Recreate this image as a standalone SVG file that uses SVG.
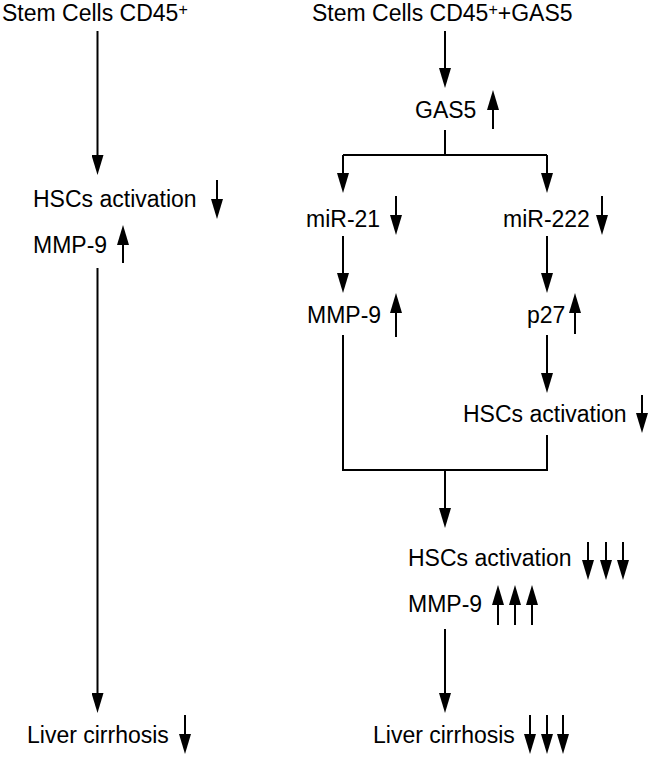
<svg xmlns="http://www.w3.org/2000/svg" width="650" height="757" viewBox="0 0 650 757">
<style>
text{font-family:"Liberation Sans",Arial,sans-serif;font-size:23px;fill:#000}
.sup{font-size:16px}
.c line,.c path{stroke:#000;stroke-width:2;fill:none}
.a{marker-end:url(#ah)}
</style>
<defs>
<marker id="ah" viewBox="0 0 20 12" refX="10" refY="6" markerWidth="20" markerHeight="12" markerUnits="userSpaceOnUse" orient="auto">
<path d="M0,0 L20,6 L0,12 z" fill="#000"/>
</marker>
</defs>
<rect width="650" height="757" fill="#fff"/>
<g id="left-stem"><text x="2" y="21">Stem Cells CD45<tspan class="sup" dy="-6.5">+</tspan></text></g>
<g id="left-hsc"><text x="33" y="207">HSCs activation</text></g>
<g id="left-mmp"><text x="33" y="253">MMP-9</text></g>
<g id="left-liver"><text x="27" y="743">Liver cirrhosis</text></g>
<g id="right-stem"><text x="312" y="21">Stem Cells CD45<tspan class="sup" dy="-6.5">+</tspan><tspan dy="6.5">+GAS5</tspan></text></g>
<g id="gas5"><text x="415" y="118">GAS5</text></g>
<g id="mir21"><text x="306" y="227">miR-21</text></g>
<g id="mir222"><text x="503" y="227">miR-222</text></g>
<g id="mmp9-r"><text x="307" y="323">MMP-9</text></g>
<g id="p27"><text x="527" y="323">p27</text></g>
<g id="hsc-r"><text x="463" y="422">HSCs activation</text></g>
<g id="hsc-comb"><text x="408" y="566">HSCs activation</text></g>
<g id="mmp-comb"><text x="408" y="612">MMP-9</text></g>
<g id="liver-r"><text x="373" y="743">Liver cirrhosis</text></g>
<g class="c" id="connectors">
<line class="a" x1="97.5" y1="31" x2="97.5" y2="165"/>
<line class="a" x1="97.5" y1="268" x2="97.5" y2="703"/>
<line class="a" x1="445" y1="31" x2="445" y2="78"/>
<path d="M445,130 V155 M343,155 H547"/>
<line class="a" x1="343" y1="155" x2="343" y2="183"/>
<line class="a" x1="547" y1="155" x2="547" y2="183"/>
<line class="a" x1="343" y1="236" x2="343" y2="283"/>
<line class="a" x1="547" y1="236" x2="547" y2="283"/>
<line class="a" x1="547" y1="335" x2="547" y2="383"/>
<path d="M343,335 V470 H547 V435"/>
<line class="a" x1="445" y1="470" x2="445" y2="518"/>
<line class="a" x1="445" y1="629" x2="445" y2="703"/>
</g>
<g class="c" id="indicators">
<line class="a" x1="217" y1="180" x2="217" y2="209"/>
<line class="a" x1="123" y1="263" x2="123" y2="235"/>
<line class="a" x1="185" y1="715" x2="185" y2="744"/>
<line class="a" x1="493" y1="129" x2="493" y2="100"/>
<line class="a" x1="396" y1="196" x2="396" y2="225"/>
<line class="a" x1="602" y1="196" x2="602" y2="225"/>
<line class="a" x1="396" y1="337" x2="396" y2="303"/>
<line class="a" x1="575" y1="334" x2="575" y2="303"/>
<line class="a" x1="642" y1="395" x2="642" y2="423"/>
<line class="a" x1="588" y1="542" x2="588" y2="570"/>
<line class="a" x1="606" y1="542" x2="606" y2="570"/>
<line class="a" x1="623" y1="542" x2="623" y2="570"/>
<line class="a" x1="498" y1="625" x2="498" y2="595"/>
<line class="a" x1="515" y1="625" x2="515" y2="595"/>
<line class="a" x1="532" y1="625" x2="532" y2="595"/>
<line class="a" x1="530" y1="715" x2="530" y2="744"/>
<line class="a" x1="547" y1="715" x2="547" y2="744"/>
<line class="a" x1="563" y1="715" x2="563" y2="744"/>
</g>
</svg>
